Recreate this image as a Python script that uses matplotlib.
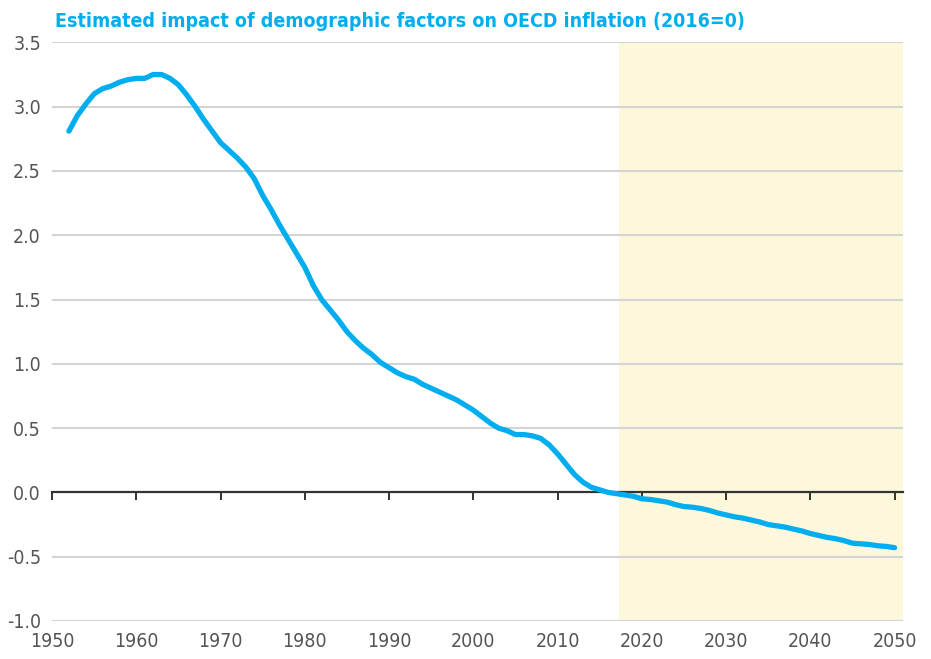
import matplotlib
matplotlib.use("Agg")
import matplotlib.pyplot as plt

# data
years = list(range(1952, 2051))
impact = [
    2.81, 2.93, 3.02, 3.10, 3.14, 3.16, 3.19, 3.21, 3.22, 3.22,   # 1952-1961
    3.25, 3.25, 3.22, 3.17, 3.09, 3.00, 2.90, 2.81, 2.72, 2.66,   # 1962-1971
    2.60, 2.53, 2.44, 2.31, 2.20, 2.08, 1.97, 1.86, 1.75, 1.61,   # 1972-1981
    1.50, 1.42, 1.34, 1.25, 1.18, 1.12, 1.07, 1.01, 0.97, 0.93,   # 1982-1991
    0.90, 0.88, 0.84, 0.81, 0.78, 0.75, 0.72, 0.68, 0.64, 0.59,   # 1992-2001
    0.54, 0.50, 0.48, 0.45, 0.45, 0.44, 0.42, 0.37, 0.30, 0.22,   # 2002-2011
    0.14, 0.08, 0.04, 0.02, 0.00, -0.01, -0.02, -0.03, -0.05, -0.055,  # 2012-2021
    -0.065, -0.075, -0.095, -0.11, -0.115, -0.125, -0.14, -0.16, -0.175, -0.19,  # 2022-2031
    -0.20, -0.215, -0.23, -0.25, -0.26, -0.27, -0.285, -0.30, -0.32, -0.335,  # 2032-2041
    -0.35, -0.36, -0.375, -0.395, -0.40, -0.405, -0.415, -0.42, -0.43,  # 2042-2050
]
forecast_start = 2017.3
x_ticks = list(range(1950, 2051, 10))
y_ticks = [-1.0, -0.5, 0.0, 0.5, 1.0, 1.5, 2.0, 2.5, 3.0, 3.5]
y_labels = ["-1.0", "-0.5", "0.0", "0.5", "1.0", "1.5", "2.0", "2.5", "3.0", "3.5"]
title = "Estimated impact of demographic factors on OECD inflation (2016=0)"

BLUE = "#00aeef"
SHADE = "#fdf8dc"
GREY_TXT = "#555555"

plt.rcParams["font.family"] = ["DejaVu Sans"]
plt.rcParams["font.stretch"] = "condensed"

fig = plt.figure(figsize=(9.31, 6.59), dpi=100)
ax = fig.add_axes([0.0559, 0.0577, 0.914, 0.878])

ax.set_xlim(1950, 2051)
ax.set_ylim(-1.0, 3.5)

# forecast shading
ax.axvspan(forecast_start, 2051, color=SHADE, zorder=0, lw=0)

# horizontal gridlines
for v in y_ticks:
    if v != 0:
        ax.axhline(v, color="#d4d4d4", lw=1.5, zorder=1)

ax.plot(years, impact, color=BLUE, lw=3.8, solid_capstyle="round",
        solid_joinstyle="round", zorder=3)

# zero line with decade ticks
for s in ["top", "right", "left"]:
    ax.spines[s].set_visible(False)
ax.spines["bottom"].set_position(("data", 0))
ax.spines["bottom"].set_color("#333333")
ax.spines["bottom"].set_linewidth(1.6)
ax.spines["bottom"].set_zorder(2)
ax.set_xticks(x_ticks)
ax.tick_params(axis="x", direction="out", length=6, width=1.4,
               color="#333333", labelbottom=False)

ax.set_yticks(y_ticks)
ax.set_yticklabels(y_labels)
ax.tick_params(axis="y", length=0, pad=8, labelsize=14, labelcolor=GREY_TXT)

# year labels along the bottom edge
sec = ax.secondary_xaxis(-0.0)
sec.set_xticks(x_ticks)
sec.set_xticklabels([str(y) for y in x_ticks])
sec.tick_params(length=0, pad=8, labelsize=14, labelcolor=GREY_TXT)
sec.spines["bottom"].set_visible(False)

fig.text(0.059, 0.968, title, color=BLUE, fontsize=14, fontweight="bold",
         ha="left", va="center")

fig.savefig("out.png", dpi=100)
